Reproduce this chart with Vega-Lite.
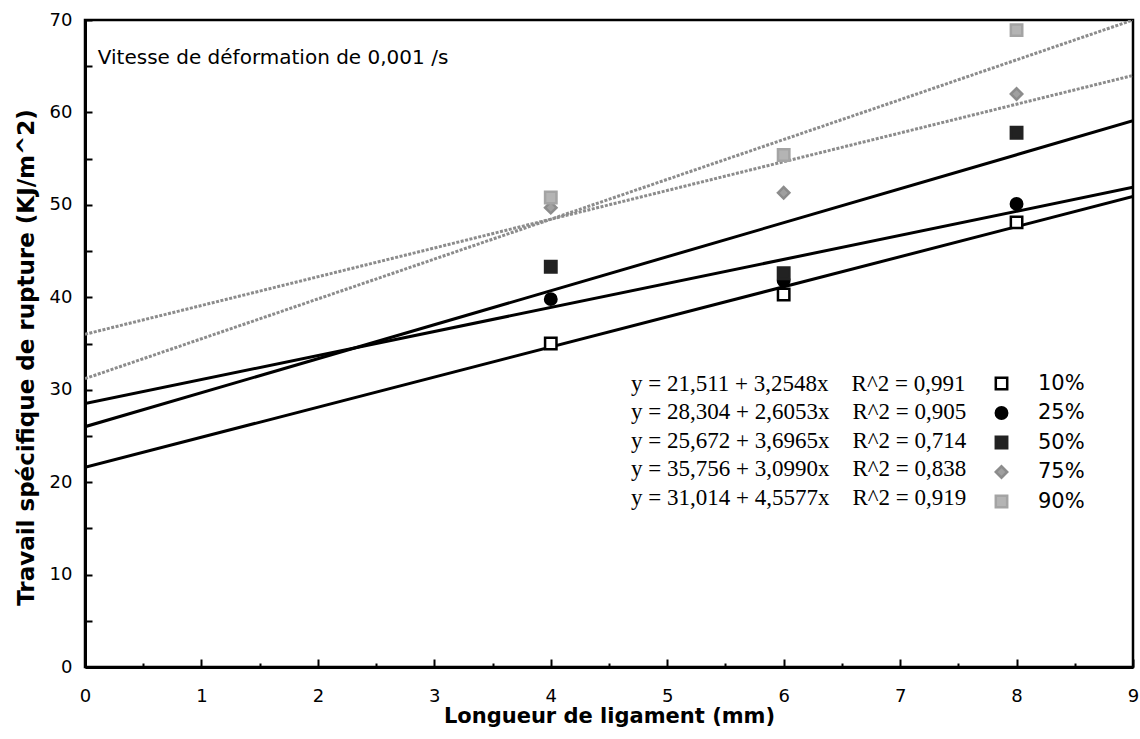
{
  "$schema": "https://vega.github.io/schema/vega-lite/v6.json",
  "width": 1048,
  "height": 647,
  "autosize": {"type": "none"},
  "padding": {"left": 85, "top": 20, "right": 7, "bottom": 72},
  "background": "white",
  "config": {
    "view": {"stroke": "black", "strokeWidth": 2.5},
    "font": "DejaVu Sans"
  },
  "datasets": {
    "points": [
      {"serie": "10%", "L": 4, "W": 35.0}, {"serie": "10%", "L": 6, "W": 40.3}, {"serie": "10%", "L": 8, "W": 48.1},
      {"serie": "25%", "L": 4, "W": 39.8}, {"serie": "25%", "L": 6, "W": 41.8}, {"serie": "25%", "L": 8, "W": 50.1},
      {"serie": "50%", "L": 4, "W": 43.3}, {"serie": "50%", "L": 6, "W": 42.6}, {"serie": "50%", "L": 8, "W": 57.8},
      {"serie": "75%", "L": 4, "W": 49.7}, {"serie": "75%", "L": 6, "W": 51.3}, {"serie": "75%", "L": 8, "W": 62.0},
      {"serie": "90%", "L": 4, "W": 50.8}, {"serie": "90%", "L": 6, "W": 55.4}, {"serie": "90%", "L": 8, "W": 68.9}
    ],
    "fits": [
      {"serie": "10%", "eq": "y = 21,511 + 3,2548x\u00a0\u00a0\u00a0 R^2 = 0,991", "L": 0, "W": 21.6},
      {"serie": "10%", "eq": "y = 21,511 + 3,2548x\u00a0\u00a0\u00a0 R^2 = 0,991", "L": 9, "W": 50.9},
      {"serie": "25%", "eq": "y = 28,304 + 2,6053x\u00a0\u00a0\u00a0 R^2 = 0,905", "L": 0, "W": 28.5},
      {"serie": "25%", "eq": "y = 28,304 + 2,6053x\u00a0\u00a0\u00a0 R^2 = 0,905", "L": 9, "W": 51.9},
      {"serie": "50%", "eq": "y = 25,672 + 3,6965x\u00a0\u00a0\u00a0 R^2 = 0,714", "L": 0, "W": 26.0},
      {"serie": "50%", "eq": "y = 25,672 + 3,6965x\u00a0\u00a0\u00a0 R^2 = 0,714", "L": 9, "W": 59.1},
      {"serie": "75%", "eq": "y = 35,756 + 3,0990x\u00a0\u00a0\u00a0 R^2 = 0,838", "L": 0, "W": 36.0},
      {"serie": "75%", "eq": "y = 35,756 + 3,0990x\u00a0\u00a0\u00a0 R^2 = 0,838", "L": 9, "W": 64.0},
      {"serie": "90%", "eq": "y = 31,014 + 4,5577x\u00a0\u00a0\u00a0 R^2 = 0,919", "L": 0, "W": 31.2},
      {"serie": "90%", "eq": "y = 31,014 + 4,5577x\u00a0\u00a0\u00a0 R^2 = 0,919", "L": 9, "W": 70.0}
    ],
    "note": [{"text": "Vitesse de déformation de 0,001 /s"}]
  },
  "layer": [
    {
      "data": {"name": "fits"},
      "transform": [{"filter": "datum.serie == '10%' || datum.serie == '25%' || datum.serie == '50%'"}],
      "mark": {"type": "line", "color": "black", "strokeWidth": 3, "clip": true},
      "encoding": {
        "x": {
          "field": "L", "type": "quantitative",
          "scale": {"domain": [0, 9], "nice": false, "zero": false},
          "axis": {
            "title": "Longueur de ligament (mm)",
            "values": [0, 0.5, 1, 1.5, 2, 2.5, 3, 3.5, 4, 4.5, 5, 5.5, 6, 6.5, 7, 7.5, 8, 8.5, 9],
            "labelExpr": "datum.value % 1 ? '' : format(datum.value, 'd')",
            "grid": false,
            "domainColor": "black", "domainWidth": 3,
            "tickColor": "black", "tickWidth": 2,
            "tickSize": {"condition": {"test": "datum.value % 1 !== 0", "value": -4}, "value": -8},
            "labelPadding": 28,
            "labelFont": "DejaVu Sans", "labelFontSize": 18, "labelColor": "black",
            "labelFlush": false,
            "titleFont": "DejaVu Sans", "titleFontSize": 21, "titleFontWeight": "bold", "titleColor": "black",
            "titlePadding": 0
          }
        },
        "y": {
          "field": "W", "type": "quantitative",
          "scale": {"domain": [0, 70], "nice": false, "zero": false},
          "axis": {
            "title": "Travail spécifique de rupture (KJ/m^2)",
            "values": [0, 5, 10, 15, 20, 25, 30, 35, 40, 45, 50, 55, 60, 65, 70],
            "labelExpr": "datum.value % 10 ? '' : datum.label",
            "grid": false,
            "domainColor": "black", "domainWidth": 3,
            "tickColor": "black", "tickWidth": 2,
            "tickSize": -7,
            "labelPadding": 20,
            "labelFont": "DejaVu Sans", "labelFontSize": 18, "labelColor": "black",
            "labelFlush": false,
            "titleFont": "DejaVu Sans", "titleFontSize": 23, "titleFontWeight": "bold", "titleColor": "black",
            "titlePadding": 11,
            "titleY": 337
          }
        },
        "detail": {"field": "serie"},
        "opacity": {
          "field": "eq", "type": "nominal",
          "scale": {"domain": [
            "y = 21,511 + 3,2548x\u00a0\u00a0\u00a0 R^2 = 0,991",
            "y = 28,304 + 2,6053x\u00a0\u00a0\u00a0 R^2 = 0,905",
            "y = 25,672 + 3,6965x\u00a0\u00a0\u00a0 R^2 = 0,714",
            "y = 35,756 + 3,0990x\u00a0\u00a0\u00a0 R^2 = 0,838",
            "y = 31,014 + 4,5577x\u00a0\u00a0\u00a0 R^2 = 0,919"
          ], "range": [1, 1, 1, 1, 1]},
          "legend": {
            "orient": "none", "legendX": 523, "legendY": 352,
            "title": null, "padding": 0,
            "symbolSize": 0, "symbolOpacity": 0, "symbolStrokeWidth": 0,
            "labelOffset": 0, "rowPadding": 4.5,
            "labelFont": "Liberation Serif", "labelFontSize": 23, "labelColor": "black",
            "labelLimit": 600
          }
        }
      }
    },
    {
      "data": {"name": "fits"},
      "transform": [{"filter": "datum.serie == '75%' || datum.serie == '90%'"}],
      "mark": {"type": "line", "color": "#8c8c8c", "strokeWidth": 3, "strokeDash": [3, 1.5], "clip": true},
      "encoding": {
        "x": {"field": "L", "type": "quantitative"},
        "y": {"field": "W", "type": "quantitative"},
        "detail": {"field": "serie"},
        "opacity": {"field": "eq", "type": "nominal"}
      }
    },
    {
      "data": {"name": "points"},
      "mark": {"type": "point", "size": 130, "strokeWidth": 2.5, "opacity": 1},
      "encoding": {
        "x": {"field": "L", "type": "quantitative"},
        "y": {"field": "W", "type": "quantitative"},
        "shape": {
          "field": "serie", "type": "nominal",
          "scale": {"domain": ["10%", "25%", "50%", "75%", "90%"], "range": ["square", "circle", "square", "diamond", "square"]},
          "legend": {
            "orient": "none", "legendX": 906, "legendY": 353,
            "title": null, "padding": 0,
            "symbolSize": 130, "symbolStrokeWidth": 2.5,
            "labelOffset": 26, "rowPadding": 6.5,
            "labelFont": "DejaVu Sans", "labelFontSize": 21, "labelColor": "black"
          }
        },
        "fill": {
          "field": "serie", "type": "nominal",
          "scale": {"domain": ["10%", "25%", "50%", "75%", "90%"], "range": ["#ffffff", "#000000", "#222222", "#a0a0a0", "#b4b4b4"]}
        },
        "stroke": {
          "field": "serie", "type": "nominal",
          "scale": {"domain": ["10%", "25%", "50%", "75%", "90%"], "range": ["#000000", "#000000", "#222222", "#8c8c8c", "#a4a4a4"]}
        }
      }
    },
    {
      "data": {"name": "note"},
      "mark": {"type": "text", "align": "left", "baseline": "middle", "font": "DejaVu Sans", "fontSize": 20, "color": "black"},
      "encoding": {
        "x": {"datum": 0.11},
        "y": {"datum": 65.9},
        "text": {"field": "text", "type": "nominal"}
      }
    }
  ]
}
